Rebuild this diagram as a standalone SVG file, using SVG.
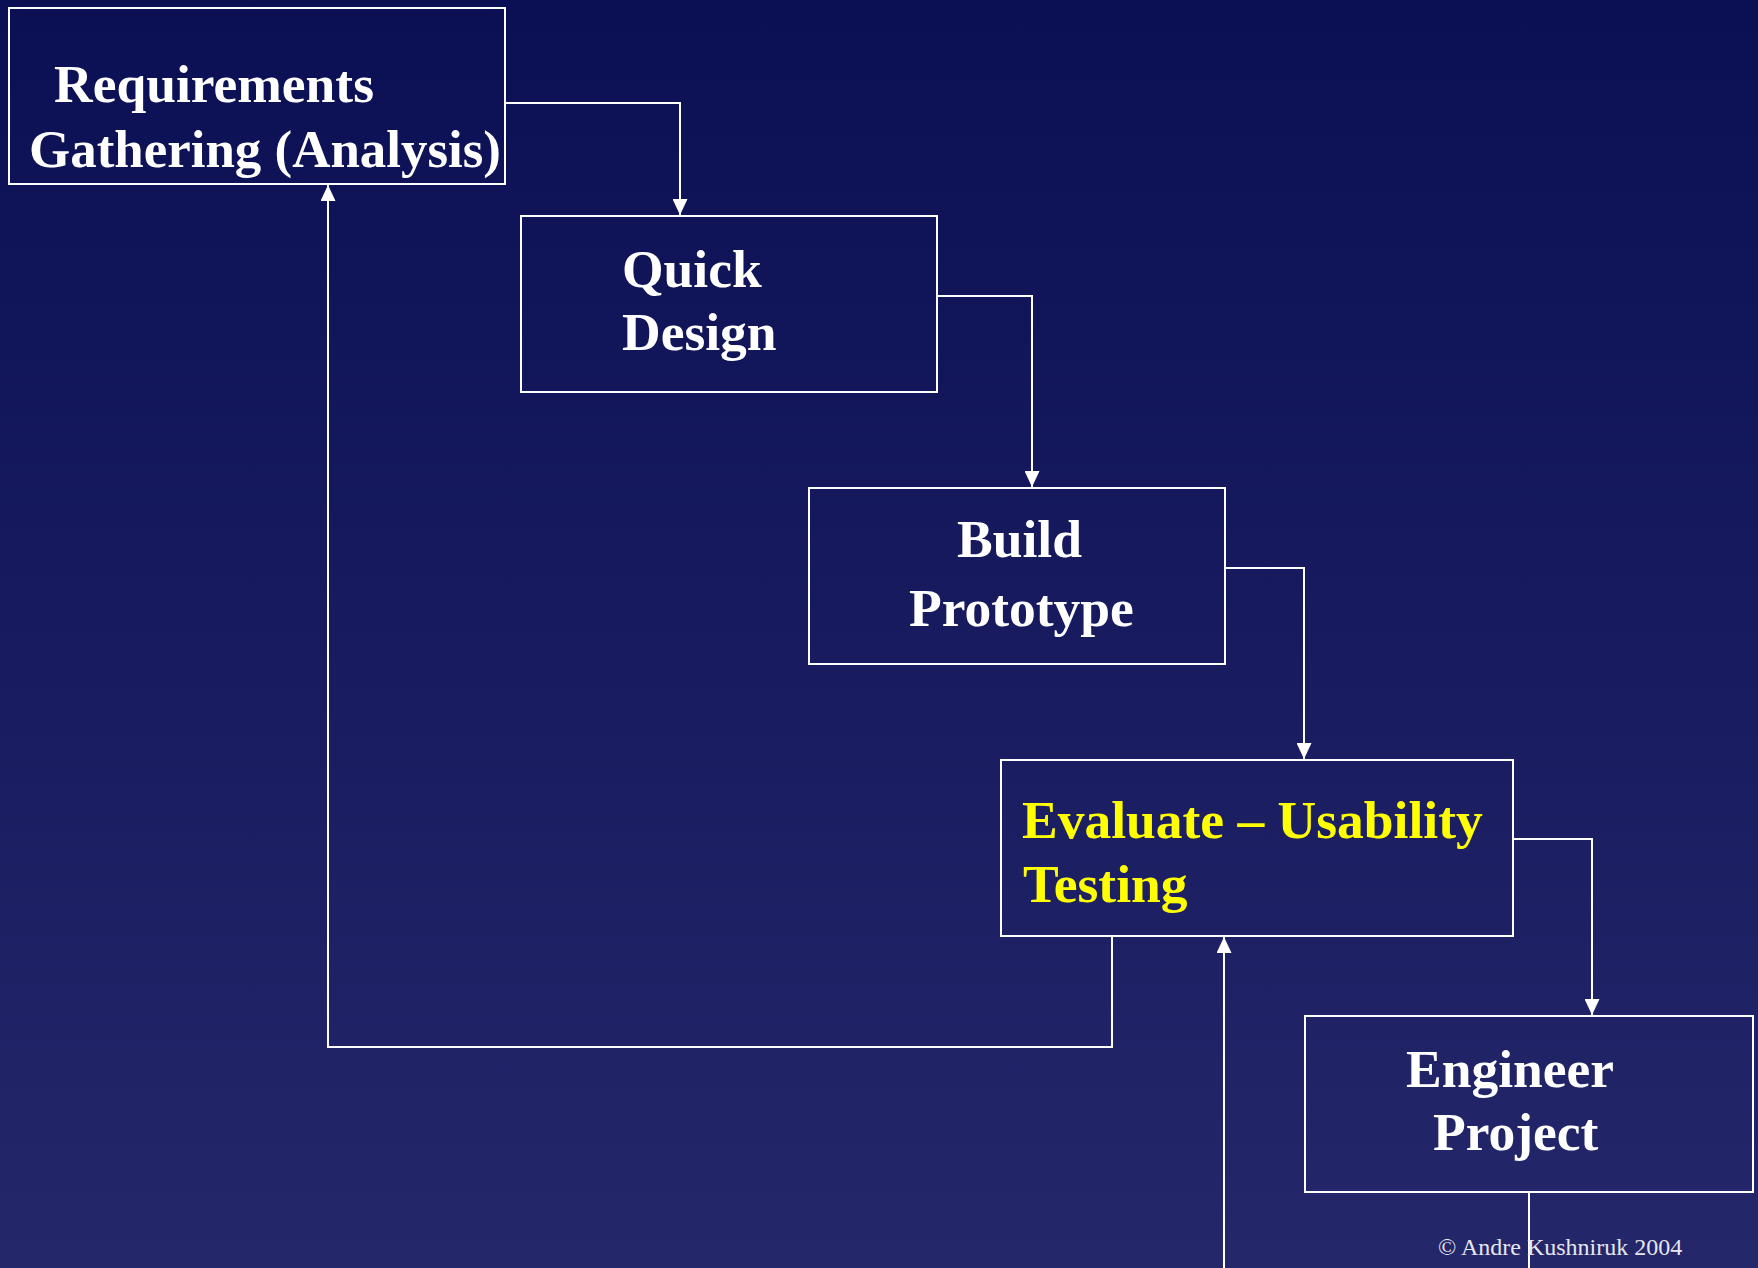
<svg xmlns="http://www.w3.org/2000/svg" width="1758" height="1268" viewBox="0 0 1758 1268">
  <defs>
    <linearGradient id="bg" x1="0" y1="0" x2="0" y2="1">
      <stop offset="0" stop-color="#0b0f53"/>
      <stop offset="1" stop-color="#24276a"/>
    </linearGradient>
    <marker id="arr" markerUnits="userSpaceOnUse" markerWidth="17" markerHeight="15" refX="16" refY="7.5" orient="auto">
      <path d="M0,0 L16,7.5 L0,15 z" fill="#ffffff"/>
    </marker>
    <style>
      .box { fill: none; stroke: #ffffff; stroke-width: 2; }
      .lbl { font-family: "Liberation Serif", "Times New Roman", serif; font-weight: bold; font-size: 53.5px; fill: #ffffff; }
      .yel { fill: #ffff00; }
      .conn { fill: none; stroke: #ffffff; stroke-width: 2; }
      .copy { font-family: "Liberation Serif", "Times New Roman", serif; font-size: 24px; fill: #e6e6ee; }
    </style>
  </defs>
  <rect x="0" y="0" width="1758" height="1268" fill="url(#bg)"/>

  <g id="connectors">
    <polyline class="conn" points="505,103 680,103 680,215" marker-end="url(#arr)"/>
    <polyline class="conn" points="937,296 1032,296 1032,487" marker-end="url(#arr)"/>
    <polyline class="conn" points="1225,568 1304,568 1304,759" marker-end="url(#arr)"/>
    <polyline class="conn" points="1513,839 1592,839 1592,1015" marker-end="url(#arr)"/>
    <polyline class="conn" points="1112,936 1112,1047 328,1047 328,185" marker-end="url(#arr)"/>
    <polyline class="conn" points="1224,1268 1224,937" marker-end="url(#arr)"/>
    <polyline class="conn" points="1529,1192 1529,1268"/>
  </g>

  <g id="requirements">
    <rect class="box" x="9" y="8" width="496" height="176"/>
    <text class="lbl" x="54" y="102">Requirements</text>
    <text class="lbl" x="29" y="167" textLength="472" lengthAdjust="spacingAndGlyphs">Gathering (Analysis)</text>
  </g>

  <g id="quick-design">
    <rect class="box" x="521" y="216" width="416" height="176"/>
    <text class="lbl" x="622" y="287">Quick</text>
    <text class="lbl" x="622" y="350">Design</text>
  </g>

  <g id="build-prototype">
    <rect class="box" x="809" y="488" width="416" height="176"/>
    <text class="lbl" x="957" y="557">Build</text>
    <text class="lbl" x="909" y="626">Prototype</text>
  </g>

  <g id="evaluate">
    <rect class="box" x="1001" y="760" width="512" height="176"/>
    <text class="lbl yel" x="1022" y="838">Evaluate – Usability</text>
    <text class="lbl yel" x="1023" y="902">Testing</text>
  </g>

  <g id="engineer-project">
    <rect class="box" x="1305" y="1016" width="448" height="176"/>
    <text class="lbl" x="1406" y="1087">Engineer</text>
    <text class="lbl" x="1433" y="1150">Project</text>
  </g>

  <text class="copy" x="1438" y="1255">© Andre Kushniruk 2004</text>
</svg>
